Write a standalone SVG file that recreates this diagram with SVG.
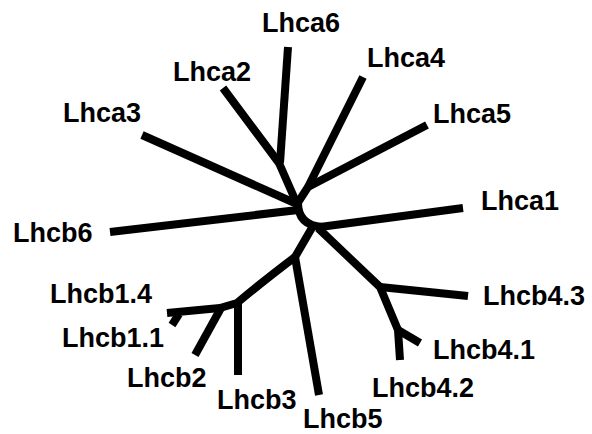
<svg xmlns="http://www.w3.org/2000/svg" width="592" height="434" viewBox="0 0 592 434">
<style>
.e{fill:none;stroke:#000;stroke-width:8;stroke-linecap:butt;stroke-linejoin:round}
.t{font-family:"Liberation Sans",Arial,sans-serif;font-weight:bold;font-size:27px;fill:#000}
</style>
<rect width="592" height="434" fill="#fff"/>
<g id="connectors">
<path class="e" d="M288,47 L280,163"/>
<path class="e" d="M223,88 L279,163 L297,204"/>
<path class="e" d="M363,77 L308,187 L297,204"/>
<path class="e" d="M427,125 L308,187"/>
<path class="e" d="M142,135 L297,204"/>
<path class="e" d="M110,232 L298,210"/>
<path class="e" d="M298,203 Q298,225 322,227"/>
<path class="e" d="M320,227 L463,208"/>
<path class="e" d="M318,228 L380,287 L398,330 L400,360"/>
<path class="e" d="M380,287 L468,296"/>
<path class="e" d="M398,330 L420,343"/>
<path class="e" d="M313,226 L295,257 Q262,282 237,303 L220,308 L167,313"/>
<path class="e" d="M179,314 L172,325"/>
<path class="e" d="M221,308 L195,355"/>
<path class="e" d="M238,302 L238,375"/>
<path class="e" d="M295,257 L319,395"/>
</g>
<g id="Lhca6"><text class="t" x="262" y="32">Lhca6</text></g>
<g id="Lhca2"><text class="t" x="173" y="81">Lhca2</text></g>
<g id="Lhca4"><text class="t" x="367" y="67">Lhca4</text></g>
<g id="Lhca3"><text class="t" x="63" y="122">Lhca3</text></g>
<g id="Lhca5"><text class="t" x="433" y="123">Lhca5</text></g>
<g id="Lhca1"><text class="t" x="481" y="210">Lhca1</text></g>
<g id="Lhcb6"><text class="t" x="13" y="242">Lhcb6</text></g>
<g id="Lhcb1.4"><text class="t" x="50" y="303">Lhcb1.4</text></g>
<g id="Lhcb1.1"><text class="t" x="62" y="347">Lhcb1.1</text></g>
<g id="Lhcb2"><text class="t" x="127" y="387">Lhcb2</text></g>
<g id="Lhcb3"><text class="t" x="217" y="409">Lhcb3</text></g>
<g id="Lhcb5"><text class="t" x="303" y="428">Lhcb5</text></g>
<g id="Lhcb4.2"><text class="t" x="372" y="397">Lhcb4.2</text></g>
<g id="Lhcb4.1"><text class="t" x="433" y="359">Lhcb4.1</text></g>
<g id="Lhcb4.3"><text class="t" x="483" y="305">Lhcb4.3</text></g>
</svg>
